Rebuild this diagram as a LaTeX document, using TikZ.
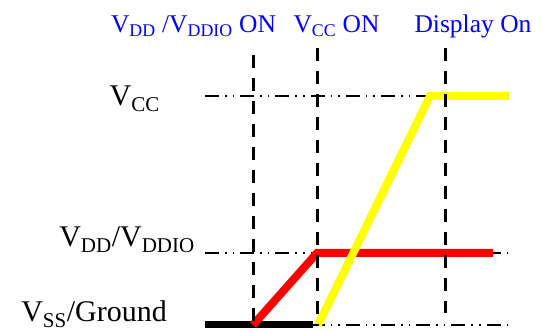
\documentclass[tikz,border=0pt]{standalone}
\usepackage{fontspec}
\setmainfont{Liberation Serif}
\usetikzlibrary{positioning, calc}
\definecolor{seqblue}{HTML}{0000FF}
\definecolor{seqred}{HTML}{FF0000}
\definecolor{seqyellow}{HTML}{FFFF00}

\tikzset{
  marker/.style={black, line width=3pt, dash pattern=on 13pt off 10pt},
  level/.style={black, line width=1.6pt,
    dash pattern=on 14pt off 6pt on 1.6pt off 6pt on 1.6pt off 6pt},
  rail/.style={line width=8pt, line cap=butt},
  railname/.style={font=\fontsize{30}{32}\selectfont, anchor=base east, inner sep=0pt},
  stepname/.style={font=\fontsize{25.5}{27}\selectfont, text=seqblue, anchor=base, inner sep=0pt},
}

\begin{document}
\begin{tikzpicture}[x=1pt, y=1pt]
  \useasboundingbox (0,0) rectangle (543,331);
  % time points and levels
  \coordinate (t0) at (205,0);
  \coordinate (t1) at (253,0);
  \coordinate (t2) at (317,0);
  \coordinate (t3) at (445,0);
  \coordinate (tend) at (508,0);
  \coordinate (ss) at (0,6);
  \coordinate (dd) at (0,78);
  \coordinate (cc) at (0,235);

  % labels
  \node[railname] (vcclabel) at (160,225) {V\textsubscript{CC}};
  \node[railname] (vddlabel) at (195,84) {V\textsubscript{DD}/V\textsubscript{DDIO}};
  \node[railname] (vsslabel) at (167,9) {V\textsubscript{SS}/Ground};
  \node[stepname] (vddon) at (193.5,298) {V\textsubscript{DD} /V\textsubscript{DDIO} ON};
  \node[stepname] (vccon) at (336.5,298) {V\textsubscript{CC} ON};
  \node[stepname] (dispon) at (473,298) {Display On};

  % reference levels
  \draw[level] (t0 |- cc) -- (430,235);
  \draw[level] (t0 |- dd) -- (tend |- dd);
  \draw[level] (t0 |- ss) -- (tend |- ss);

  % supply rails
  \draw[line width=7pt] (t0 |- ss) -- (313,6);
  \draw[rail, seqred] (t1 |- ss) -- (t2 |- dd) -- (493,78);
  \draw[rail, seqyellow] (318,6) -- (430,235) -- (509,235);

  % event markers
  \draw[marker] (253,276) -- (t1 |- ss);
  \draw[marker] (317,283) -- (t2 |- ss);
  \draw[marker] (445,283) -- (445,18);
\end{tikzpicture}
\end{document}
